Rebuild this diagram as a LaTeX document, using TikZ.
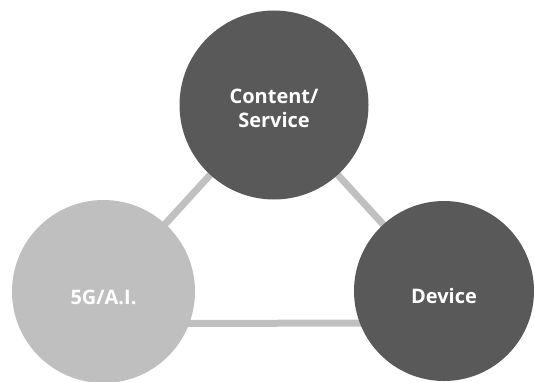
\documentclass[tikz,border=0pt]{standalone}
\usepackage{fontspec}
\setmainfont{Open Sans}
\definecolor{darkc}{HTML}{595959}
\definecolor{lightc}{HTML}{BFBFBF}
\definecolor{linec}{HTML}{C0C0C0}
\tikzset{
  bubble/.style={circle, inner sep=0pt},
  caption/.style={inner sep=0pt, text=white, font=\bfseries\fontsize{20}{24}\selectfont, align=center},
  link/.style={draw=linec, line width=7pt}
}
\begin{document}
\begin{tikzpicture}[x=1pt,y=1pt]
\useasboundingbox (0,0) rectangle (534,381);
\coordinate (T) at (274,276);
\coordinate (L) at (103.5,89.5);
\coordinate (R) at (444,90);
\draw[link] (T) -- (L);
\draw[link] (T) -- (R);
\draw[link] ([yshift=-32pt]L) -- ([yshift=-32pt]R);
\node[bubble, fill=darkc, minimum size=189pt] (top) at (T) {};
\node[bubble, fill=lightc, minimum size=183pt] (left) at (L) {};
\node[bubble, fill=darkc, minimum size=180pt] (right) at (R) {};
\node[caption] (toptext) at ([yshift=-3pt]top.center) {Content/\\Service};
\node[caption] (lefttext) at ([yshift=-6pt]left.center) {5G/A.I.};
\node[caption] (righttext) at ([yshift=-5pt]right.center) {Device};
\end{tikzpicture}
\end{document}
